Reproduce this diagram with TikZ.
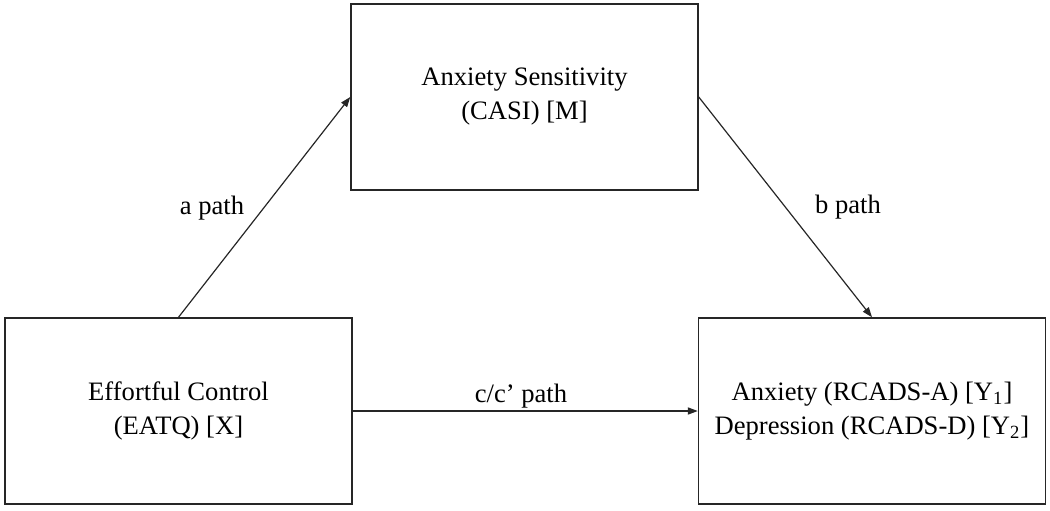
\documentclass[tikz,border=0pt]{standalone}
\usepackage{fontspec}
\setmainfont{Liberation Serif}
\usetikzlibrary{arrows.meta}
\begin{document}
\begin{tikzpicture}[x=0.5pt,y=-0.5pt,
  box/.style={draw=black!85,line width=0.75pt,minimum width=173.5pt,minimum height=93pt,align=center,inner sep=0pt,font=\fontsize{13.3}{17}\selectfont},
  lbl/.style={font=\fontsize{13.3}{16}\selectfont,inner sep=0pt},
  conn/.style={draw=black!85,line width=0.6pt,-{Triangle[length=5pt,width=3.6pt]}}]
\useasboundingbox (0,0) rectangle (1050,510);
\node[box] (M) at (524.5,97) {Anxiety Sensitivity\\(CASI) [M]};
\node[box] (X) at (178.5,411) {Effortful Control\\(EATQ) [X]};
\node[box] (Y) at (872,411) {Anxiety (RCADS-A) [Y\textsubscript{1}]\\Depression (RCADS-D) [Y\textsubscript{2}]};
\draw[conn] (X.north) -- (M.west);
\draw[conn] (M.east) -- (Y.north);
\draw[conn] (X.east) -- (Y.west);
\node[lbl] (la) at (212,208) {a path};
\node[lbl] (lb) at (848,207) {b path};
\node[lbl] (lc) at (521,396) {c/c’ path};
\end{tikzpicture}
\end{document}
